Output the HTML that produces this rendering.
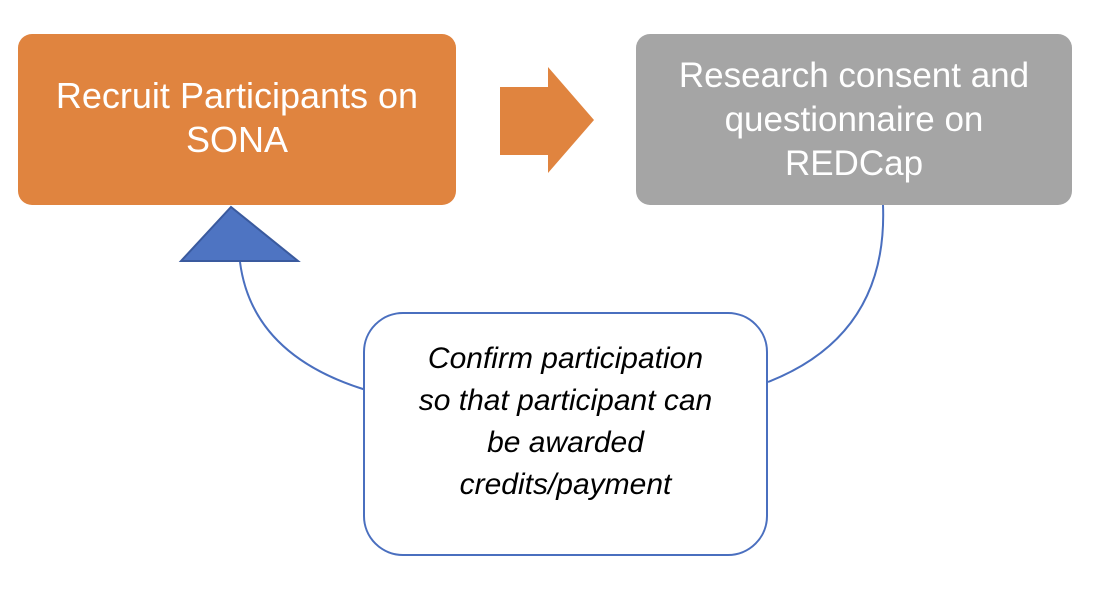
<!DOCTYPE html>
<html><head><meta charset="utf-8">
<style>
html,body{margin:0;padding:0;background:#fff;}
#root{position:relative;width:1098px;height:596px;overflow:hidden;font-family:"Liberation Sans",sans-serif;}
.box{position:absolute;border-radius:14px;color:#fff;display:flex;align-items:center;justify-content:center;text-align:center;font-size:35px;line-height:44px;}
svg{position:absolute;left:0;top:0;}
</style></head><body>
<div id="root">
<svg width="1098" height="596">
  <path d="M240 262 Q252 355 366 390" fill="none" stroke="#4A6FBF" stroke-width="2"/>
  <path d="M883 205 Q888 335 768 382" fill="none" stroke="#4A6FBF" stroke-width="2"/>
  <polygon points="500,87 548,87 548,67 594,120 548,173 548,155 500,155" fill="#E0843F"/>
  <polygon points="181,261 298,261 231,207" fill="#4E74C2" stroke="#3A5A9E" stroke-width="2"/>
</svg>
<div class="box" style="left:18px;top:34px;width:438px;height:171px;background:#E0843F;font-size:36px;">
  <div style="margin-top:-4px">Recruit Participants on<br>SONA</div></div>
<div class="box" style="left:636px;top:34px;width:436px;height:171px;background:#A5A5A5;">
  <div>Research consent and<br>questionnaire on<br>REDCap</div></div>
<div class="box" style="left:363px;top:312px;width:401px;height:240px;background:#fff;border:2px solid #4A6FBF;border-radius:40px;color:#000;font-style:italic;font-size:30px;line-height:42px;">
  <div style="margin-top:-24px">Confirm participation<br>so that participant can<br>be awarded<br>credits/payment</div></div>
</div>
</body></html>
